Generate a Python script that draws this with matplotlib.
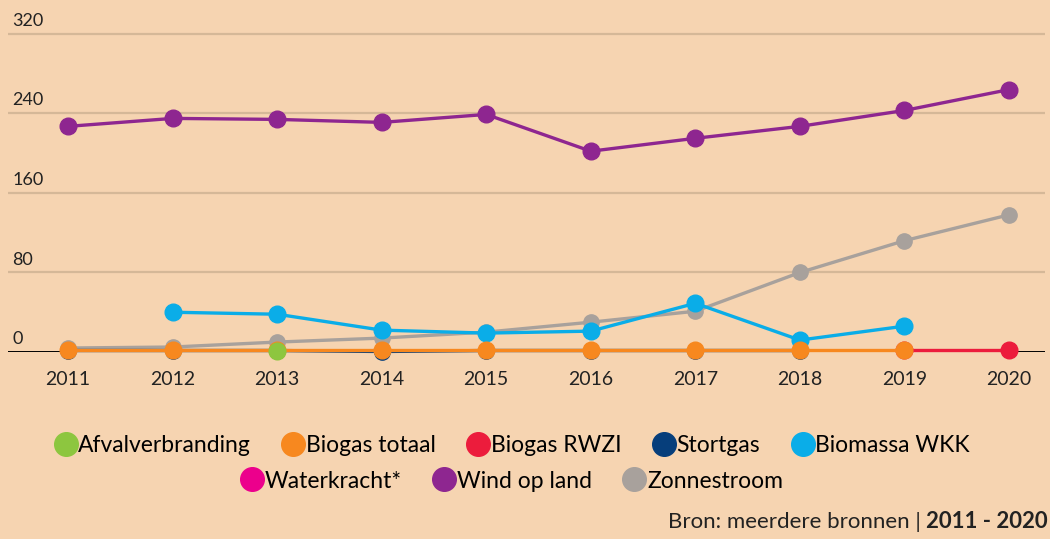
import matplotlib.pyplot as plt
from matplotlib.lines import Line2D

plt.rcParams['font.family'] = ['Lato', 'DejaVu Sans']

years = [2011, 2012, 2013, 2014, 2015, 2016, 2017, 2018, 2019, 2020]

wind = [227, 235, 234, 231, 239, 202, 215, 227, 243, 264]
zon = [4, 5, 10, 14, 20, 30, 41, 80, 112, 138]
biomassa_years = [2012, 2013, 2014, 2015, 2016, 2017, 2018, 2019]
biomassa = [40, 38, 22, 19, 21, 49, 12, 26]
biogas_years = [2011, 2012, 2013, 2014, 2015, 2016, 2017, 2018, 2019]
biogas = [2, 2, 2, 2, 2, 2, 2, 2, 2]
rwzi_years = [2019, 2020]
rwzi = [2, 2]
stort_years = [2011, 2012, 2013, 2014, 2015, 2016, 2017, 2018]
stort = [1.5, 1.5, 1.5, 0.5, 1.5, 1.5, 1.5, 1.5]
afval_years = [2013]
afval = [1.5]

yticks = [0, 80, 160, 240, 320]

bg = '#F6D4B1'
c_afval = '#8DC63F'
c_biogas = '#F7881F'
c_rwzi = '#EC1C3C'
c_stort = '#063E7B'
c_biomassa = '#0AADE8'
c_water = '#EC008C'
c_wind = '#8E2690'
c_zon = '#A8A19C'

fig = plt.figure(figsize=(10.5, 5.39), dpi=100, facecolor=bg)
ax = fig.add_axes([8 / 1050, 187 / 539, 1037 / 1050, 332 / 539])
ax.set_facecolor(bg)
ax.set_xlim(2010.426, 2020.344)
ax.set_ylim(0, 334)

for v in yticks[1:]:
    ax.axhline(v, color='#D5B898', lw=1.6, zorder=1)
ax.axhline(0, color='black', lw=1.4, zorder=2)
for v in yticks:
    ax.text(0.004, v + 5, str(v), transform=ax.get_yaxis_transform(),
            fontsize=13, color='#222222', va='bottom', ha='left')

def line(x, y, c, ms=12, z=3):
    ax.plot(x, y, color=c, lw=2.4, marker='o', ms=ms, mec=c, clip_on=False, zorder=z)

line(years, zon, c_zon, ms=11, z=3)
line(years, wind, c_wind, z=4)
line(biomassa_years, biomassa, c_biomassa, z=5)
line(stort_years, stort, c_stort, ms=11, z=6)
line(rwzi_years, rwzi, c_rwzi, z=7)
line(biogas_years, biogas, c_biogas, z=8)
line(afval_years, afval, c_afval, z=9)

ax.set_xticks(years)
ax.set_xticklabels([str(y) for y in years], fontsize=14, color='#222222')
ax.tick_params(axis='x', length=0, pad=14)
ax.set_yticks([])
for s in ax.spines.values():
    s.set_visible(False)

def handle(c):
    return Line2D([], [], ls='none', marker='o', ms=17, color=c)

row1 = [('Afvalverbranding', c_afval), ('Biogas totaal', c_biogas), ('Biogas RWZI', c_rwzi),
        ('Stortgas', c_stort), ('Biomassa WKK', c_biomassa)]
row2 = [('Waterkracht*', c_water), ('Wind op land', c_wind), ('Zonnestroom', c_zon)]
for row, yy in [(row1, 1 - 446 / 539), (row2, 1 - 481 / 539)]:
    fig.legend([handle(c) for _, c in row], [n for n, _ in row], ncol=len(row),
               loc='center', bbox_to_anchor=(0.487, yy), frameon=False,
               fontsize=16.5, handletextpad=0.0, columnspacing=1.3, handlelength=1.1)

fig.text(0.998, 1 - 522 / 539, 'Bron: meerdere bronnen | ', ha='right', va='center',
         fontsize=16, color='#222222')
t = fig.text(0.998, 1 - 522 / 539, '2011 - 2020', ha='right', va='center',
             fontsize=16, color='#222222', fontweight='bold')
fig.canvas.draw()
w = t.get_window_extent().width
fig.texts[-2].set_x(0.998 - w / 1050)

fig.savefig('out.png', dpi=100, facecolor=bg)
